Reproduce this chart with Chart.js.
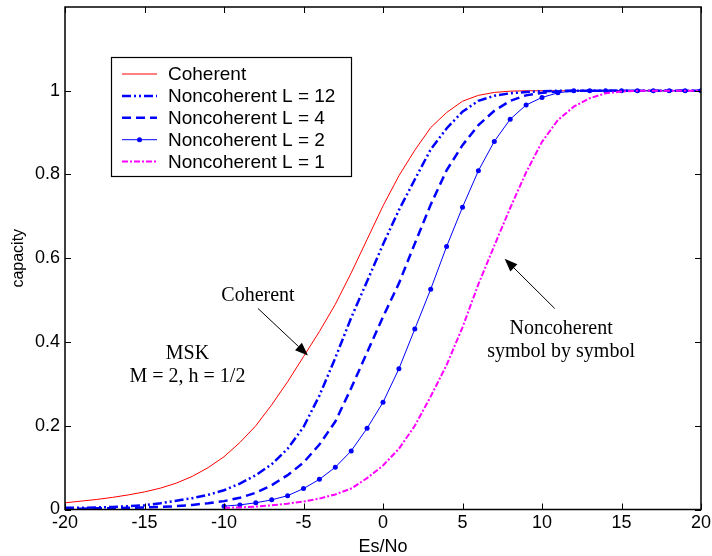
<!DOCTYPE html>
<html>
<head>
    <meta charset="utf-8"/>
    <title>MSK capacity</title>
    <script src="https://cdn.jsdelivr.net/npm/chart.js@4.4.1/dist/chart.umd.min.js"></script>
    <style>
        html, body { margin: 0; padding: 0; background: #fff; }
        #wrap { width: 712px; height: 556px; }
    </style>
</head>
<body>
<div id="wrap"><canvas id="capChart" width="712" height="556"></canvas></div>
<script>
    // Es/No grid (dB)
    const esNo = [-20, -19, -18, -17, -16, -15, -14, -13, -12, -11, -10, -9, -8, -7, -6, -5, -4, -3, -2, -1,
        0, 1, 2, 3, 4, 5, 6, 7, 8, 9, 10, 11, 12, 13, 14, 15, 16, 17, 18, 19, 20];

    const coherent = [0.016, 0.020, 0.024, 0.029, 0.035, 0.042, 0.051, 0.063, 0.079, 0.100,
        0.126, 0.160, 0.200, 0.250, 0.305, 0.365, 0.425, 0.490, 0.565, 0.645,
        0.725, 0.797, 0.858, 0.912, 0.948, 0.975, 0.989, 0.996, 0.999, 1, 1, 1, 1, 1, 1, 1, 1, 1, 1, 1, 1];

    const nonL12 = [0.004, 0.004, 0.005, 0.006, 0.008, 0.010, 0.015, 0.021, 0.027, 0.035,
        0.046, 0.062, 0.082, 0.108, 0.145, 0.197, 0.272, 0.362, 0.458, 0.545,
        0.633, 0.715, 0.788, 0.860, 0.910, 0.950, 0.976, 0.988, 0.994, 0.997, 0.999, 1, 1, 1, 1, 1, 1, 1, 1, 1, 1];

    const nonL4 = [0.002, 0.002, 0.003, 0.003, 0.004, 0.005, 0.006, 0.008, 0.011, 0.015,
        0.020, 0.028, 0.040, 0.058, 0.082, 0.112, 0.155, 0.210, 0.290, 0.375,
        0.460, 0.540, 0.635, 0.728, 0.810, 0.870, 0.918, 0.952, 0.976, 0.989, 0.995, 0.998, 1, 1, 1, 1, 1, 1, 1, 1, 1];

    const nonL2 = [null, null, null, null, null, null, null, null, null, null,
        0.008, 0.011, 0.016, 0.023, 0.033, 0.050, 0.072, 0.101, 0.140, 0.194,
        0.256, 0.336, 0.431, 0.526, 0.628, 0.722, 0.809, 0.879, 0.932, 0.966, 0.984, 0.995, 1, 1, 1, 1, 1, 1, 1, 1, 1];

    const nonL1 = [null, null, null, null, null, null, null, null, null, null,
        0.004, 0.005, 0.007, 0.010, 0.014, 0.019, 0.026, 0.036, 0.050, 0.075,
        0.105, 0.145, 0.200, 0.270, 0.345, 0.435, 0.538, 0.630, 0.720, 0.805, 0.878, 0.930, 0.962, 0.982, 0.994, 0.998, 1, 1, 1, 1, 1];

    const xTicks = [-20, -15, -10, -5, 0, 5, 10, 15, 20];
    const yTicks = [0, 0.2, 0.4, 0.6, 0.8, 1];

    // text notes in data units
    const notes = [
        {text: 'Coherent', x: -7.86, y: 0.511},
        {text: 'MSK', x: -12.3, y: 0.373},
        {text: 'M = 2, h = 1/2', x: -12.3, y: 0.318},
        {text: 'Noncoherent', x: 11.2, y: 0.432},
        {text: 'symbol by symbol', x: 11.2, y: 0.376}
    ];
    const arrows = [
        {from: [-7.86, 0.48], to: [-4.72, 0.368]},
        {from: [10.8, 0.48], to: [7.65, 0.599]}
    ];

    function points(arr) {
        const out = [];
        for (let i = 0; i < esNo.length; i++) {
            if (arr[i] !== null) out.push({x: esNo[i], y: arr[i]});
        }
        return out;
    }

    const datasets = [
        {label: 'Coherent', data: points(coherent), borderColor: '#ff0000', borderWidth: 1,
            borderDash: [], pointRadius: 0, order: 5},
        {label: 'Noncoherent L = 12', data: points(nonL12), borderColor: '#0000ff', borderWidth: 2.5,
            borderDash: [9, 3, 2, 3, 2, 3], pointRadius: 0, order: 4},
        {label: 'Noncoherent L = 4', data: points(nonL4), borderColor: '#0000ff', borderWidth: 2.5,
            borderDash: [9, 5], pointRadius: 0, order: 3},
        {label: 'Noncoherent L = 2', data: points(nonL2), borderColor: '#0000ff', borderWidth: 1,
            borderDash: [], pointRadius: 2.5, pointBackgroundColor: '#0000ff', pointBorderColor: '#0000ff',
            pointBorderWidth: 0, order: 2},
        {label: 'Noncoherent L = 1', data: points(nonL1), borderColor: '#ff00ff', borderWidth: 2,
            borderDash: [6, 2, 2, 2], pointRadius: 0, order: 1}
    ];

    const sansFont = "'Liberation Sans', Arial, sans-serif";
    const serifFont = "'Liberation Serif', 'Times New Roman', serif";

    // frame, inward ticks, legend box and notes
    const decorPlugin = {
        id: 'decor',
        afterDatasetsDraw(chart) {
            const ctx = chart.ctx;
            const a = chart.chartArea;
            const xs = chart.scales.x, ys = chart.scales.y;
            ctx.save();
            ctx.strokeStyle = '#000';
            ctx.lineWidth = 1;
            ctx.setLineDash([]);
            ctx.beginPath();
            xTicks.forEach(v => {
                const px = Math.round(xs.getPixelForValue(v)) + 0.5;
                ctx.moveTo(px, a.bottom); ctx.lineTo(px, a.bottom - 6);
                ctx.moveTo(px, a.top); ctx.lineTo(px, a.top + 6);
            });
            yTicks.forEach(v => {
                const py = Math.round(ys.getPixelForValue(v)) + 0.5;
                ctx.moveTo(a.left, py); ctx.lineTo(a.left + 6, py);
                ctx.moveTo(a.right, py); ctx.lineTo(a.right - 6, py);
            });
            ctx.stroke();
            ctx.lineWidth = 1.5;
            ctx.strokeRect(a.left, a.top, a.right - a.left, a.bottom - a.top);

            // notes
            ctx.fillStyle = '#000';
            ctx.font = '20px ' + serifFont;
            ctx.textAlign = 'center';
            ctx.textBaseline = 'middle';
            notes.forEach(n => ctx.fillText(n.text, xs.getPixelForValue(n.x), ys.getPixelForValue(n.y)));

            arrows.forEach(ar => {
                const x1 = xs.getPixelForValue(ar.from[0]), y1 = ys.getPixelForValue(ar.from[1]);
                const x2 = xs.getPixelForValue(ar.to[0]), y2 = ys.getPixelForValue(ar.to[1]);
                const ang = Math.atan2(y2 - y1, x2 - x1);
                const hl = 13, hw = 5;
                const bx = x2 - hl * Math.cos(ang), by = y2 - hl * Math.sin(ang);
                ctx.lineWidth = 1;
                ctx.beginPath();
                ctx.moveTo(x1, y1); ctx.lineTo(bx, by);
                ctx.stroke();
                ctx.beginPath();
                ctx.moveTo(x2, y2);
                ctx.lineTo(bx + hw * Math.sin(ang), by - hw * Math.cos(ang));
                ctx.lineTo(bx - hw * Math.sin(ang), by + hw * Math.cos(ang));
                ctx.closePath();
                ctx.fill();
            });

            // legend
            const lx = 111.5, ly = 57.5, lw = 240, lh = 119;
            ctx.fillStyle = '#fff';
            ctx.fillRect(lx, ly, lw, lh);
            ctx.strokeStyle = '#000';
            ctx.lineWidth = 1.2;
            ctx.strokeRect(lx, ly, lw, lh);
            ctx.font = '19px ' + sansFont;
            ctx.textAlign = 'left';
            chart.data.datasets.forEach((ds, i) => {
                const y = 74 + i * 21.9;
                ctx.strokeStyle = ds.borderColor;
                ctx.lineWidth = ds.borderWidth;
                ctx.setLineDash(ds.borderDash);
                ctx.beginPath();
                ctx.moveTo(122, y); ctx.lineTo(157, y);
                ctx.stroke();
                ctx.setLineDash([]);
                if (ds.pointRadius) {
                    ctx.fillStyle = ds.borderColor;
                    ctx.beginPath();
                    ctx.arc(139.5, y, ds.pointRadius, 0, Math.PI * 2);
                    ctx.fill();
                }
                ctx.fillStyle = '#000';
                ctx.fillText(ds.label, 168, y + 1);
            });
            ctx.restore();
        }
    };

    const config = {
        type: 'line',
        data: {datasets: datasets},
        options: {
            responsive: false,
            animation: false,
            devicePixelRatio: 1,
            layout: {padding: {top: 7, right: 11, left: 0, bottom: 0}},
            elements: {line: {tension: 0, fill: false}},
            plugins: {legend: {display: false}, tooltip: {enabled: false}},
            scales: {
                x: {
                    type: 'linear', min: -20, max: 20,
                    afterBuildTicks: s => { s.ticks = xTicks.map(v => ({value: v})); },
                    afterFit: s => { s.height = 46.5; s.paddingLeft = 0; s.paddingRight = 0; },
                    grid: {display: false, drawTicks: false},
                    border: {display: false},
                    ticks: {color: '#000', padding: 3, font: {family: sansFont, size: 18}},
                    title: {display: true, text: 'Es/No', color: '#000', padding: 0,
                        font: {family: sansFont, size: 18, lineHeight: 1}}
                },
                y: {
                    type: 'linear', min: 0, max: 1.2,
                    afterBuildTicks: s => { s.ticks = yTicks.map(v => ({value: v})); },
                    afterFit: s => { s.width = 65; s.paddingTop = 0; s.paddingBottom = 0; },
                    grid: {display: false, drawTicks: false},
                    border: {display: false},
                    ticks: {color: '#000', padding: 5, font: {family: sansFont, size: 18},
                        callback: v => String(Math.round(v * 10) / 10)},
                    title: {display: true, text: 'capacity', color: '#000', padding: {top: 9},
                        font: {family: sansFont, size: 16}}
                }
            }
        },
        plugins: [decorPlugin]
    };

    const capChart = new Chart(document.getElementById('capChart'), config);
</script>
</body>
</html>
